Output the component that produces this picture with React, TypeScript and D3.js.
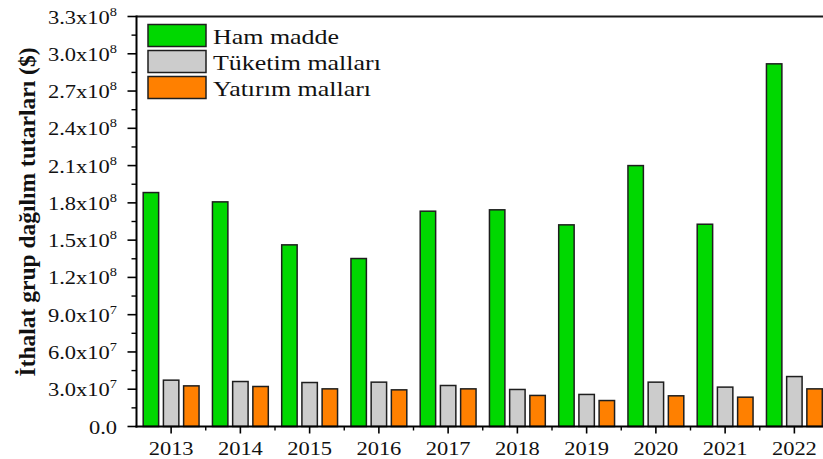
import React from 'react';
import * as d3 from 'd3';

const years = ['2013', '2014', '2015', '2016', '2017', '2018', '2019', '2020', '2021', '2022'];
const seriesNames = ['Ham madde', 'Tüketim malları', 'Yatırım malları'];
const seriesColors = ['#00d800', '#cccccc', '#ff8000'];
// values in US dollars
const hamMadde = [188.3e6, 180.8e6, 146.2e6, 135.2e6, 173.3e6, 174.4e6, 162.3e6, 210.0e6, 162.8e6, 291.9e6];
const tuketimMallari = [37.3e6, 36.2e6, 35.4e6, 35.7e6, 33.0e6, 29.8e6, 25.8e6, 35.7e6, 31.7e6, 40.2e6];
const yatirimMallari = [32.7e6, 32.2e6, 30.3e6, 29.5e6, 30.3e6, 25.0e6, 20.9e6, 24.7e6, 23.6e6, 30.3e6];
const yTickValues = d3.range(0, 12).map((i) => i * 3e7);
const yMinorValues = d3.range(0, 23).map((i) => i * 1.5e7).filter((_, i) => i % 2 === 1);
const yTitle = 'İthalat grup dağılım tutarları ($)';

const seriesData = [hamMadde, tuketimMallari, yatirimMallari];

function fmt(v: number) {
  if (v === 0) return { m: '0.0', e: '' };
  const e = Math.floor(Math.log10(v) + 1e-9);
  const m = v / Math.pow(10, e);
  return { m: m.toFixed(1) + 'x10', e: String(e) };
}

export default function App() {
  const W = 823;
  const H = 459;
  const step = 69.25;
  const left = 136.5;
  const top = 16.5;
  const bottom = 426.5;
  const right = left + step * years.length;

  const x = d3.scaleBand<string>().domain(years).range([left, right]).padding(0);
  const xs = d3.scaleBand<string>().domain(seriesNames).range([6.7, step - 6.7]).paddingInner(0.236);
  const y = d3.scaleLinear().domain([0, 3.3e8]).range([bottom, top]);

  const serif = '"Liberation Serif", "Times New Roman", serif';
  const sx = 1.25;

  return (
    <svg width={W} height={H} style={{ position: 'absolute', left: 0, top: 0, background: '#fff' }} fontFamily={serif}>
      <rect x={0} y={0} width={W} height={H} fill="#fff" />
      {/* bars */}
      {years.map((yr, i) => (
        <g key={yr}>
          {seriesNames.map((s, k) => {
            const v = seriesData[k][i];
            return (
              <rect
                key={s}
                x={(x(yr) as number) + (xs(s) as number)}
                y={y(v)}
                width={xs.bandwidth()}
                height={bottom - y(v)}
                fill={seriesColors[k]}
                stroke="#1e1e1e"
                strokeWidth={1.5}
              />
            );
          })}
        </g>
      ))}
      {/* frame */}
      <line x1={left} x2={right} y1={top} y2={top} stroke="#1a1a1a" strokeWidth={2} />
      <line x1={left} x2={left} y1={top - 1} y2={bottom + 1} stroke="#000" strokeWidth={2} />
      <line x1={left - 1} x2={right} y1={bottom} y2={bottom} stroke="#000" strokeWidth={2.2} />
      {/* y ticks */}
      {yTickValues.map((v) => {
        const f = fmt(v);
        return (
          <g key={v}>
            <line x1={left - 9} x2={left} y1={y(v)} y2={y(v)} stroke="#000" strokeWidth={1.6} />
            <text
              transform={`translate(${left - 19.5},${y(v) + 7}) scale(${sx},1)`}
              textAnchor="end"
              fontSize={18}
              fill="#111"
            >
              {f.m}
              {f.e && (
                <tspan fontSize={11.5} dy={-8}>
                  {f.e}
                </tspan>
              )}
            </text>
          </g>
        );
      })}
      {yMinorValues.map((v) => (
        <line key={v} x1={left - 5} x2={left} y1={y(v)} y2={y(v)} stroke="#000" strokeWidth={1.4} />
      ))}
      {/* x ticks */}
      {years.map((yr, i) => {
        const cx = (x(yr) as number) + x.bandwidth() / 2;
        return (
          <g key={yr}>
            <line x1={cx} x2={cx} y1={bottom} y2={bottom + 7} stroke="#000" strokeWidth={1.6} />
            {i > 0 && (
              <line x1={x(yr) as number} x2={x(yr) as number} y1={bottom} y2={bottom + 4} stroke="#000" strokeWidth={1.4} />
            )}
            <text transform={`translate(${cx},455) scale(${sx},1)`} textAnchor="middle" fontSize={18} fill="#111">
              {yr}
            </text>
          </g>
        );
      })}
      {/* y title */}
      <text
        transform={`translate(35,212) rotate(-90)`}
        textAnchor="middle"
        fontSize={23.5}
        fontWeight="bold"
        fill="#111"
      >
        {yTitle}
      </text>
      {/* legend */}
      {seriesNames.map((s, k) => (
        <g key={s}>
          <rect x={148} y={24.5 + k * 26} width={58} height={22} fill={seriesColors[k]} stroke="#1e1e1e" strokeWidth={1.5} />
          <text transform={`translate(213,${43.5 + k * 26}) scale(1.18,1)`} fontSize={22} fill="#111">
            {s}
          </text>
        </g>
      ))}
    </svg>
  );
}
